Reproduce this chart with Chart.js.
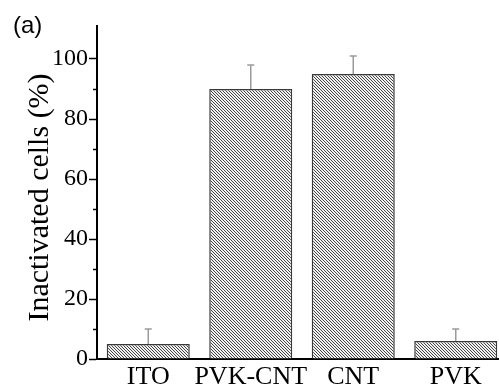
<!DOCTYPE html>
<html>
<head>
<meta charset="utf-8">
<script src="https://cdn.jsdelivr.net/npm/chart.js@4/dist/chart.umd.min.js"></script>
<style>
  html, body { margin: 0; padding: 0; background: #fff; overflow: hidden; }
  #wrap { position: relative; width: 499px; height: 386px; overflow: hidden; }
  #c { position: absolute; left: 0; top: 0; }
  #panel { position: absolute; left: 13px; top: 13px; font: 24px "Liberation Sans", Arial, sans-serif; color: #000; line-height: 1; }
</style>
</head>
<body>
<div id="wrap">
  <canvas id="c" width="510" height="386"></canvas>
  <div id="panel">(a)</div>
</div>
<script>
const categories = ["ITO", "PVK-CNT", "CNT", "PVK"];
const values = [5, 90, 95, 6];
const errors = [5, 8, 6, 4];
const yTicks = [0, 20, 40, 60, 80, 100];
const yMinorTicks = [10, 30, 50, 70, 90];
const yTitle = "Inactivated cells (%)";

function hatch() {
  const s = 3;
  const p = document.createElement('canvas');
  p.width = s; p.height = s;
  const g = p.getContext('2d');
  g.fillStyle = '#f2f2f2';
  g.fillRect(0, 0, s, s);
  g.strokeStyle = '#444';
  g.lineWidth = 1;
  g.beginPath();
  g.moveTo(-1, -1); g.lineTo(s + 1, s + 1);
  g.moveTo(-1 - s, -1); g.lineTo(1, s + 1);
  g.moveTo(s - 1, -1); g.lineTo(2 * s + 1, s + 1);
  g.stroke();
  return g.createPattern(p, 'repeat');
}

const serif = '"Liberation Serif", "Times New Roman", serif';

const extras = {
  id: 'extras',
  afterDatasetsDraw(chart) {
    const ctx = chart.ctx;
    const y = chart.scales.y;
    const meta = chart.getDatasetMeta(0);
    ctx.save();
    ctx.strokeStyle = '#9a9a9a';
    ctx.lineWidth = 1.5;
    meta.data.forEach((bar, i) => {
      const top = y.getPixelForValue(values[i]);
      const e = y.getPixelForValue(values[i] + errors[i]);
      ctx.beginPath();
      ctx.moveTo(bar.x, top);
      ctx.lineTo(bar.x, e);
      ctx.moveTo(bar.x - 3.5, e);
      ctx.lineTo(bar.x + 3.5, e);
      ctx.stroke();
    });
    ctx.strokeStyle = '#000';
    ctx.lineWidth = 1.5;
    yMinorTicks.forEach(v => {
      const py = Math.round(y.getPixelForValue(v)) + 0.5;
      ctx.beginPath();
      ctx.moveTo(y.right - 4, py);
      ctx.lineTo(y.right, py);
      ctx.stroke();
    });
    // y axis title
    ctx.translate(48, 197.5);
    ctx.rotate(-Math.PI / 2);
    ctx.fillStyle = '#000';
    ctx.font = '30px ' + serif;
    ctx.textAlign = 'center';
    ctx.textBaseline = 'alphabetic';
    ctx.fillText(yTitle, 0, 0);
    ctx.restore();
  }
};

new Chart(document.getElementById('c'), {
  type: 'bar',
  data: {
    labels: categories,
    datasets: [{
      data: values,
      backgroundColor: hatch(),
      borderColor: '#3a3a3a',
      borderWidth: 1.5,
      categoryPercentage: 1,
      barPercentage: 0.81
    }]
  },
  options: {
    responsive: false,
    animation: false,
    layout: { padding: { left: 0, right: 3, top: 26, bottom: 0 } },
    plugins: { legend: { display: false }, tooltip: { enabled: false } },
    scales: {
      x: {
        afterFit(s) { s.height = 27; },
        grid: { display: false },
        border: { color: '#000', width: 2 },
        ticks: { color: '#000', font: { family: serif, size: 26 }, padding: -5, maxRotation: 0, autoSkip: false }
      },
      y: {
        min: 0, max: 111,
        afterFit(s) { s.width = 97; },
        afterBuildTicks(s) { s.ticks = yTicks.map(v => ({ value: v })); },
        grid: { drawOnChartArea: false, tickLength: 8, tickColor: '#000', tickWidth: 1.5 },
        border: { color: '#000', width: 2 },
        ticks: { color: '#000', font: { family: serif, size: 24 }, padding: 1 },
        title: { display: false }
      }
    }
  },
  plugins: [extras]
});
</script>
</body>
</html>
